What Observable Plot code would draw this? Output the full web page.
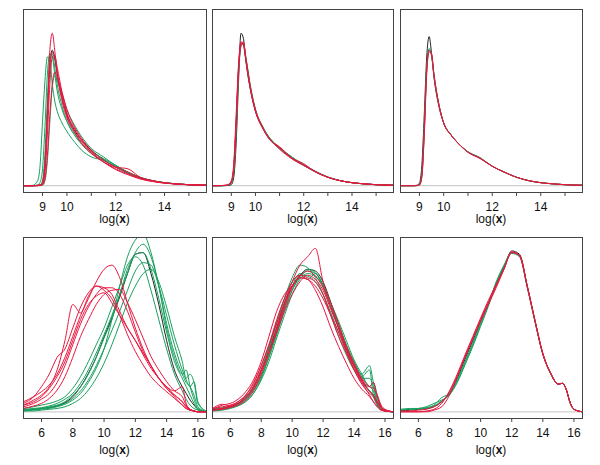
<!DOCTYPE html>
<html><head><meta charset="utf-8">
<script src="https://cdn.jsdelivr.net/npm/d3@7"></script>
<script src="https://cdn.jsdelivr.net/npm/@observablehq/plot@0.6"></script>
<style>
body{margin:0;background:#fff;}
#chart{position:relative;width:600px;height:465px;font-family:"Liberation Sans",Arial,Helvetica,sans-serif;}
#chart svg{position:absolute;}
#chart svg text{font-size:12px !important;font-family:"Liberation Sans",Arial,sans-serif !important;}
</style></head><body><div id="chart"></div>
<script>
// ---------- x grids (log x) ----------
const xTop = [8.22, 8.6, 8.8, 8.9, 9.0, 9.1, 9.2, 9.3, 9.4, 9.5, 9.6, 9.8, 10.0, 10.3, 10.6, 11.0, 11.5, 12.0, 12.5, 13.0, 13.5, 14.0, 14.5, 15.0, 15.72];
const xBottom = [4.85, 5.5, 6, 6.5, 7, 7.5, 8, 8.5, 9, 9.5, 10, 10.5, 11, 11.5, 12, 12.5, 13, 13.5, 14, 14.5, 15, 15.25, 15.5, 15.75, 16, 16.55];

// ---------- axis ticks ----------
const topTicks = [9, 10, 11, 12, 13, 14, 15];
const topTickLabels = [9, 10, 12, 14];
const bottomTicks = [6, 8, 10, 12, 14, 16];
const bottomTickLabels = [6, 8, 10, 12, 14, 16];
const axisTitle = ["log(", "x", ")"];

// ---------- panel 1 (top left) ----------
const p1Black = [0, 0, 0.002, 0.005, 0.02, 0.15, 0.45, 0.72, 0.80, 0.75, 0.66, 0.52, 0.42, 0.33, 0.27, 0.21, 0.155, 0.11, 0.075, 0.045, 0.028, 0.017, 0.01, 0.006, 0.003];
const p1Reds = [
  [0, 0, 0.001, 0.003, 0.01, 0.10, 0.42, 0.80, 0.90, 0.80, 0.66, 0.50, 0.40, 0.32, 0.26, 0.20, 0.14, 0.11, 0.10, 0.05, 0.03, 0.017, 0.01, 0.006, 0.003],
  [0, 0, 0.002, 0.004, 0.02, 0.13, 0.40, 0.70, 0.79, 0.76, 0.67, 0.52, 0.41, 0.32, 0.25, 0.19, 0.14, 0.10, 0.07, 0.042, 0.026, 0.016, 0.01, 0.006, 0.003],
  [0, 0, 0.001, 0.003, 0.01, 0.08, 0.30, 0.60, 0.76, 0.77, 0.70, 0.55, 0.43, 0.34, 0.27, 0.20, 0.14, 0.095, 0.065, 0.04, 0.025, 0.015, 0.009, 0.005, 0.003],
  [0, 0, 0, 0.002, 0.005, 0.04, 0.18, 0.42, 0.60, 0.67, 0.64, 0.55, 0.45, 0.35, 0.28, 0.21, 0.15, 0.11, 0.08, 0.048, 0.03, 0.018, 0.011, 0.006, 0.003]
];
const p1Greens = [
  [0, 0.002, 0.03, 0.12, 0.38, 0.62, 0.76, 0.74, 0.60, 0.50, 0.44, 0.37, 0.32, 0.26, 0.21, 0.17, 0.15, 0.11, 0.075, 0.045, 0.028, 0.017, 0.01, 0.006, 0.003],
  [0, 0, 0.005, 0.02, 0.10, 0.35, 0.66, 0.78, 0.76, 0.66, 0.56, 0.45, 0.38, 0.31, 0.25, 0.20, 0.16, 0.12, 0.08, 0.048, 0.03, 0.018, 0.011, 0.006, 0.003],
  [0, 0, 0, 0.001, 0.003, 0.03, 0.15, 0.38, 0.58, 0.65, 0.62, 0.54, 0.45, 0.36, 0.29, 0.22, 0.17, 0.12, 0.08, 0.05, 0.03, 0.018, 0.011, 0.006, 0.003],
  [0, 0, 0.002, 0.005, 0.03, 0.18, 0.50, 0.74, 0.78, 0.70, 0.60, 0.47, 0.38, 0.30, 0.245, 0.19, 0.15, 0.115, 0.08, 0.05, 0.03, 0.018, 0.011, 0.006, 0.003]
];

// ---------- panel 2 (top middle) ----------
const p2Black = [0, 0, 0.001, 0.002, 0.006, 0.05, 0.25, 0.62, 0.90, 0.87, 0.74, 0.56, 0.44, 0.34, 0.275, 0.22, 0.165, 0.12, 0.08, 0.05, 0.03, 0.018, 0.011, 0.006, 0.003];
const p2Reds = [
  [0, 0.001, 0.004, 0.01, 0.03, 0.13, 0.42, 0.72, 0.84, 0.84, 0.75, 0.57, 0.44, 0.34, 0.27, 0.225, 0.16, 0.12, 0.082, 0.05, 0.03, 0.018, 0.011, 0.006, 0.003],
  [0, 0.001, 0.003, 0.008, 0.025, 0.11, 0.38, 0.70, 0.85, 0.83, 0.74, 0.56, 0.44, 0.34, 0.27, 0.23, 0.165, 0.13, 0.08, 0.05, 0.03, 0.018, 0.011, 0.006, 0.003],
  [0, 0.001, 0.002, 0.006, 0.02, 0.10, 0.36, 0.68, 0.83, 0.85, 0.75, 0.57, 0.45, 0.345, 0.275, 0.215, 0.16, 0.12, 0.082, 0.05, 0.03, 0.018, 0.011, 0.006, 0.003]
];
const p2Greens = [
  [0, 0, 0.002, 0.005, 0.018, 0.09, 0.34, 0.67, 0.83, 0.84, 0.76, 0.58, 0.45, 0.35, 0.28, 0.225, 0.17, 0.125, 0.085, 0.052, 0.031, 0.018, 0.011, 0.006, 0.003],
  [0, 0, 0.002, 0.006, 0.02, 0.10, 0.36, 0.69, 0.84, 0.83, 0.75, 0.57, 0.44, 0.345, 0.275, 0.22, 0.168, 0.122, 0.083, 0.05, 0.03, 0.018, 0.011, 0.006, 0.003],
  [0, 0, 0.001, 0.004, 0.015, 0.08, 0.32, 0.66, 0.82, 0.84, 0.76, 0.58, 0.45, 0.345, 0.28, 0.225, 0.17, 0.12, 0.083, 0.05, 0.03, 0.018, 0.011, 0.006, 0.003]
];

// ---------- panel 3 (top right) ----------
const p3Black = [0, 0, 0.001, 0.003, 0.015, 0.12, 0.42, 0.76, 0.88, 0.78, 0.64, 0.47, 0.37, 0.30, 0.25, 0.20, 0.165, 0.115, 0.08, 0.05, 0.03, 0.018, 0.011, 0.006, 0.003];
const p3Reds = [
  [0, 0, 0, 0.001, 0.005, 0.06, 0.32, 0.68, 0.80, 0.77, 0.65, 0.48, 0.37, 0.30, 0.25, 0.198, 0.162, 0.115, 0.08, 0.05, 0.03, 0.018, 0.011, 0.006, 0.003],
  [0, 0, 0, 0.001, 0.004, 0.05, 0.30, 0.66, 0.79, 0.78, 0.66, 0.48, 0.37, 0.30, 0.25, 0.197, 0.16, 0.115, 0.08, 0.05, 0.03, 0.018, 0.011, 0.006, 0.003]
];
const p3Greens = [
  [0, 0, 0, 0.001, 0.006, 0.07, 0.34, 0.70, 0.81, 0.77, 0.65, 0.48, 0.37, 0.30, 0.25, 0.20, 0.165, 0.115, 0.08, 0.05, 0.03, 0.018, 0.011, 0.006, 0.003],
  [0, 0, 0, 0.001, 0.005, 0.06, 0.33, 0.69, 0.80, 0.77, 0.65, 0.48, 0.37, 0.30, 0.25, 0.20, 0.162, 0.115, 0.08, 0.05, 0.03, 0.018, 0.011, 0.006, 0.003]
];

// ---------- panel 4 (bottom left) ----------
const p4Black = [0.002, 0.003, 0.004, 0.005, 0.007, 0.011, 0.018, 0.03, 0.046, 0.065, 0.089, 0.112, 0.137, 0.165, 0.188, 0.19, 0.165, 0.128, 0.085, 0.05, 0.03, 0.022, 0.014, 0.008, 0.003, 0.0];
const p4Reds = [
  [0.012, 0.018, 0.024, 0.032, 0.045, 0.065, 0.09, 0.115, 0.135, 0.155, 0.17, 0.175, 0.16, 0.13, 0.10, 0.075, 0.055, 0.04, 0.028, 0.018, 0.008, 0.004, 0.002, 0.001, 0, 0],
  [0.008, 0.014, 0.02, 0.03, 0.05, 0.085, 0.128, 0.118, 0.138, 0.15, 0.148, 0.14, 0.12, 0.10, 0.085, 0.07, 0.055, 0.04, 0.03, 0.02, 0.012, 0.006, 0.002, 0.001, 0, 0],
  [0.006, 0.01, 0.015, 0.022, 0.035, 0.055, 0.08, 0.105, 0.125, 0.14, 0.148, 0.148, 0.14, 0.12, 0.095, 0.072, 0.055, 0.04, 0.028, 0.02, 0.012, 0.006, 0.003, 0.001, 0, 0],
  [0.01, 0.018, 0.03, 0.045, 0.065, 0.075, 0.10, 0.125, 0.142, 0.15, 0.145, 0.135, 0.115, 0.092, 0.072, 0.056, 0.042, 0.032, 0.024, 0.016, 0.008, 0.004, 0.002, 0.001, 0, 0],
  [0.004, 0.007, 0.01, 0.016, 0.026, 0.042, 0.065, 0.09, 0.11, 0.128, 0.14, 0.145, 0.146, 0.13, 0.11, 0.088, 0.066, 0.05, 0.036, 0.025, 0.018, 0.008, 0.003, 0.001, 0, 0],
  [0.008, 0.012, 0.018, 0.028, 0.042, 0.06, 0.085, 0.11, 0.128, 0.138, 0.142, 0.13, 0.115, 0.10, 0.085, 0.068, 0.052, 0.04, 0.03, 0.025, 0.03, 0.01, 0.003, 0.001, 0, 0]
];
const p4Greens = [
  [0.001, 0.002, 0.003, 0.004, 0.006, 0.009, 0.014, 0.022, 0.035, 0.052, 0.075, 0.11, 0.15, 0.185, 0.205, 0.212, 0.19, 0.15, 0.105, 0.07, 0.045, 0.035, 0.03, 0.02, 0.006, 0.0],
  [0.002, 0.003, 0.004, 0.006, 0.008, 0.012, 0.02, 0.03, 0.045, 0.065, 0.088, 0.11, 0.14, 0.165, 0.19, 0.20, 0.185, 0.15, 0.10, 0.065, 0.045, 0.05, 0.03, 0.015, 0.004, 0.0],
  [0.004, 0.006, 0.008, 0.01, 0.013, 0.018, 0.028, 0.042, 0.06, 0.08, 0.10, 0.125, 0.15, 0.175, 0.185, 0.175, 0.145, 0.11, 0.075, 0.045, 0.025, 0.015, 0.008, 0.004, 0.002, 0.0],
  [0.001, 0.001, 0.002, 0.003, 0.004, 0.006, 0.01, 0.016, 0.026, 0.04, 0.058, 0.08, 0.105, 0.13, 0.15, 0.165, 0.17, 0.155, 0.125, 0.09, 0.06, 0.04, 0.045, 0.035, 0.01, 0.001],
  [0.003, 0.004, 0.005, 0.007, 0.01, 0.015, 0.022, 0.034, 0.05, 0.07, 0.092, 0.115, 0.14, 0.17, 0.188, 0.19, 0.17, 0.135, 0.095, 0.06, 0.04, 0.03, 0.02, 0.01, 0.003, 0.0],
  [0.002, 0.003, 0.004, 0.005, 0.007, 0.01, 0.016, 0.025, 0.038, 0.055, 0.075, 0.097, 0.12, 0.145, 0.168, 0.178, 0.175, 0.15, 0.115, 0.08, 0.05, 0.038, 0.03, 0.036, 0.012, 0.0]
];

// ---------- panel 5 (bottom middle) ----------
const p5Black = [0.002, 0.004, 0.006, 0.01, 0.018, 0.03, 0.05, 0.075, 0.10, 0.13, 0.15, 0.163, 0.17, 0.168, 0.155, 0.13, 0.10, 0.075, 0.055, 0.038, 0.025, 0.02, 0.012, 0.005, 0.002, 0];
const p5Reds = [
  [0.002, 0.004, 0.007, 0.012, 0.02, 0.033, 0.055, 0.08, 0.105, 0.13, 0.155, 0.175, 0.185, 0.195, 0.155, 0.13, 0.105, 0.078, 0.055, 0.037, 0.024, 0.02, 0.012, 0.005, 0.002, 0],
  [0.003, 0.008, 0.01, 0.015, 0.024, 0.038, 0.06, 0.09, 0.12, 0.14, 0.15, 0.16, 0.158, 0.15, 0.135, 0.115, 0.095, 0.072, 0.052, 0.035, 0.02, 0.012, 0.006, 0.002, 0.001, 0],
  [0.002, 0.004, 0.006, 0.01, 0.018, 0.03, 0.05, 0.072, 0.098, 0.125, 0.148, 0.162, 0.168, 0.162, 0.148, 0.125, 0.10, 0.075, 0.055, 0.038, 0.03, 0.035, 0.018, 0.006, 0.002, 0],
  [0.004, 0.006, 0.008, 0.012, 0.02, 0.035, 0.055, 0.08, 0.11, 0.135, 0.155, 0.163, 0.16, 0.155, 0.14, 0.115, 0.09, 0.07, 0.05, 0.033, 0.022, 0.018, 0.01, 0.004, 0.001, 0],
  [0.004, 0.009, 0.007, 0.01, 0.016, 0.028, 0.048, 0.07, 0.095, 0.12, 0.14, 0.155, 0.163, 0.158, 0.145, 0.122, 0.10, 0.078, 0.058, 0.04, 0.03, 0.028, 0.02, 0.008, 0.003, 0],
  [0.002, 0.003, 0.005, 0.008, 0.014, 0.025, 0.045, 0.07, 0.10, 0.128, 0.15, 0.16, 0.158, 0.145, 0.125, 0.10, 0.078, 0.058, 0.04, 0.027, 0.018, 0.012, 0.006, 0.002, 0.001, 0]
];
const p5Greens = [
  [0.002, 0.003, 0.005, 0.009, 0.016, 0.028, 0.048, 0.075, 0.105, 0.135, 0.16, 0.175, 0.172, 0.16, 0.14, 0.115, 0.09, 0.068, 0.05, 0.042, 0.05, 0.02, 0.008, 0.003, 0.001, 0],
  [0.003, 0.005, 0.007, 0.01, 0.016, 0.026, 0.043, 0.066, 0.095, 0.125, 0.15, 0.165, 0.158, 0.165, 0.15, 0.125, 0.10, 0.075, 0.055, 0.04, 0.04, 0.03, 0.012, 0.004, 0.001, 0],
  [0.001, 0.002, 0.004, 0.007, 0.012, 0.022, 0.04, 0.065, 0.092, 0.12, 0.145, 0.16, 0.168, 0.165, 0.15, 0.128, 0.103, 0.08, 0.058, 0.045, 0.055, 0.035, 0.015, 0.005, 0.001, 0],
  [0.002, 0.004, 0.006, 0.009, 0.015, 0.025, 0.042, 0.066, 0.095, 0.122, 0.145, 0.162, 0.17, 0.166, 0.152, 0.13, 0.105, 0.08, 0.06, 0.042, 0.03, 0.025, 0.01, 0.003, 0.001, 0],
  [0.002, 0.003, 0.005, 0.008, 0.013, 0.022, 0.038, 0.06, 0.088, 0.115, 0.14, 0.158, 0.165, 0.162, 0.15, 0.13, 0.108, 0.085, 0.062, 0.045, 0.03, 0.035, 0.02, 0.006, 0.002, 0],
  [0.003, 0.004, 0.006, 0.01, 0.017, 0.03, 0.05, 0.078, 0.108, 0.135, 0.155, 0.163, 0.162, 0.155, 0.14, 0.118, 0.095, 0.072, 0.05, 0.035, 0.025, 0.018, 0.008, 0.003, 0.001, 0]
];

// ---------- panel 6 (bottom right) ----------
const p6Black = [0.001, 0.002, 0.003, 0.004, 0.006, 0.012, 0.022, 0.04, 0.063, 0.085, 0.108, 0.13, 0.152, 0.172, 0.192, 0.188, 0.15, 0.108, 0.069, 0.046, 0.033, 0.034, 0.027, 0.011, 0.003, 0];
const p6Reds = [
  [0, 0, 0, 0.001, 0.003, 0.01, 0.025, 0.045, 0.068, 0.09, 0.112, 0.133, 0.152, 0.171, 0.19, 0.187, 0.15, 0.108, 0.069, 0.046, 0.033, 0.034, 0.027, 0.011, 0.003, 0],
  [0, 0, 0, 0, 0.002, 0.006, 0.02, 0.042, 0.066, 0.088, 0.11, 0.13, 0.15, 0.17, 0.191, 0.186, 0.149, 0.108, 0.07, 0.046, 0.033, 0.034, 0.027, 0.011, 0.003, 0],
  [0.001, 0.001, 0.002, 0.003, 0.006, 0.012, 0.024, 0.043, 0.065, 0.087, 0.108, 0.128, 0.148, 0.17, 0.19, 0.187, 0.15, 0.109, 0.069, 0.046, 0.033, 0.034, 0.027, 0.011, 0.003, 0]
];
const p6Greens = [
  [0.003, 0.004, 0.004, 0.005, 0.008, 0.017, 0.022, 0.036, 0.058, 0.08, 0.104, 0.128, 0.155, 0.175, 0.19, 0.186, 0.149, 0.108, 0.069, 0.046, 0.033, 0.034, 0.027, 0.011, 0.003, 0],
  [0.002, 0.003, 0.004, 0.006, 0.01, 0.014, 0.02, 0.035, 0.056, 0.078, 0.102, 0.126, 0.153, 0.173, 0.189, 0.185, 0.148, 0.107, 0.069, 0.046, 0.033, 0.034, 0.027, 0.011, 0.003, 0],
  [0.002, 0.003, 0.003, 0.004, 0.007, 0.013, 0.021, 0.038, 0.06, 0.082, 0.106, 0.129, 0.154, 0.174, 0.19, 0.187, 0.15, 0.108, 0.069, 0.046, 0.033, 0.034, 0.027, 0.011, 0.003, 0]
];

// ---------- styling ----------
const RED = "#e8173f";
const GREEN = "#17a05d";
const BLACK = "#222222";
const FRAME = "#444444";
const ZERO = "#cfcfcf";

const rows = {
  top:    {svgTop: 0,   height: 232, marginTop: 9, marginBottom: 40, xs: xTop, xDomain: [8.22, 15.72], yDomain: [-0.04, 1.04], ticks: topTicks, labels: topTickLabels, titleY: 219},
  bottom: {svgTop: 228, height: 237, marginTop: 9, marginBottom: 47, xs: xBottom, xDomain: [4.85, 16.55], yDomain: [-0.008, 0.208], ticks: bottomTicks, labels: bottomTickLabels, titleY: 222}
};
const cols = [{frameLeft: 23, frameWidth: 183}, {frameLeft: 212, frameWidth: 181}, {frameLeft: 400, frameWidth: 182}];

const panels = [
  {row: "top", col: 0, black: p1Black, reds: p1Reds, greens: p1Greens},
  {row: "top", col: 1, black: p2Black, reds: p2Reds, greens: p2Greens},
  {row: "top", col: 2, black: p3Black, reds: p3Reds, greens: p3Greens},
  {row: "bottom", col: 0, black: p4Black, reds: p4Reds, greens: p4Greens},
  {row: "bottom", col: 1, black: p5Black, reds: p5Reds, greens: p5Greens},
  {row: "bottom", col: 2, black: p6Black, reds: p6Reds, greens: p6Greens}
];

const chart = document.getElementById("chart");
const ML = 25, MR = 18;

for (const p of panels) {
  const r = rows[p.row], c = cols[p.col];
  const toRows = (arr, id) => arr.map((v, i) => ({x: r.xs[i], y: v, id}));
  const blackData = toRows(p.black, "black");
  const greenData = p.greens.flatMap((s, k) => toRows(s, "g" + k));
  const redData = p.reds.flatMap((s, k) => toRows(s, "r" + k));
  const lineOpts = (stroke) => ({x: "x", y: "y", z: "id", stroke, strokeWidth: 1, curve: "monotone-x", clip: true});
  const svg = Plot.plot({
    width: ML + c.frameWidth + MR,
    height: r.height,
    marginLeft: ML, marginRight: MR, marginTop: r.marginTop, marginBottom: r.marginBottom,
    style: {background: "transparent", overflow: "visible", fontFamily: '"Liberation Sans", Arial, sans-serif', fontSize: "12px", color: "#111"},
    x: {domain: r.xDomain, label: null},
    y: {domain: r.yDomain, axis: null},
    marks: [
      Plot.ruleY([0], {stroke: ZERO, strokeWidth: 1.3}),
      Plot.line(blackData, lineOpts(BLACK)),
      Plot.line(greenData, lineOpts(GREEN)),
      Plot.line(redData, lineOpts(RED)),
      Plot.frame({stroke: FRAME, strokeWidth: 1}),
      Plot.axisX(r.ticks, {tickSize: 4, tickPadding: 6, stroke: FRAME, fontSize: 12, tickFormat: d => r.labels.includes(d) ? String(d) : "", label: null, fill: "#111"})
    ]
  });
  svg.style.left = (c.frameLeft - ML) + "px";
  svg.style.top = r.svgTop + "px";
  const t = d3.select(svg).append("text")
    .attr("x", ML + c.frameWidth / 2)
    .attr("y", r.titleY)
    .attr("dy", "0.35em")
    .attr("text-anchor", "middle")
    .attr("fill", "#111");
  t.append("tspan").text(axisTitle[0]);
  t.append("tspan").attr("font-weight", "bold").text(axisTitle[1]);
  t.append("tspan").text(axisTitle[2]);
  chart.appendChild(svg);
}
</script>
</body></html>
